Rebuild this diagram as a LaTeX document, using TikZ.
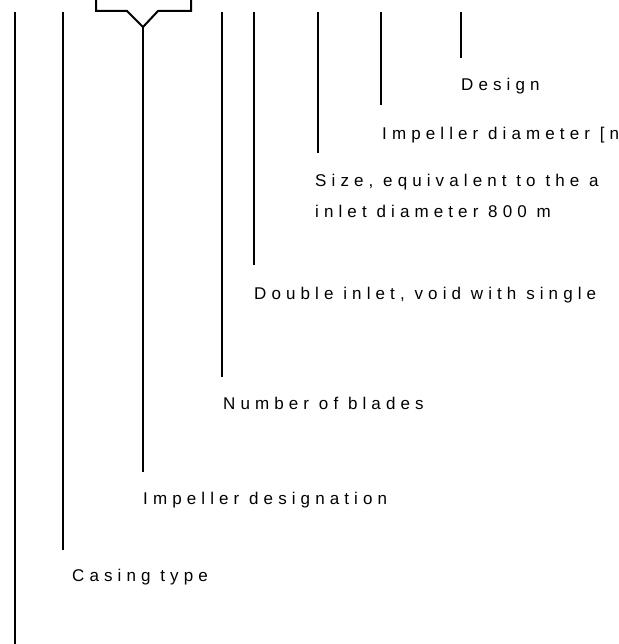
\documentclass[tikz,border=0pt]{standalone}
\usepackage{fontspec}
\newfontfamily\labfont[LetterSpace=30]{Liberation Sans}
\begin{document}
\begin{tikzpicture}[x=1pt,y=-1pt,
  lead/.style={line width=2pt,black},
  lab/.style={anchor=base west,inner sep=0pt,font=\labfont\fontsize{17}{20}\selectfont}]
\useasboundingbox (0,0) rectangle (618,644);
\clip (0,0) rectangle (618,644);
% tops and bottoms of leader lines
\coordinate (t1) at (15,12);  \coordinate (b1) at (15,644);
\coordinate (t2) at (63,12);  \coordinate (b2) at (63,550);
\coordinate (yv) at (143,27); \coordinate (b3) at (143,472);
\coordinate (t4) at (222,12); \coordinate (b4) at (222,377);
\coordinate (t5) at (254,12); \coordinate (b5) at (254,265);
\coordinate (t6) at (318,12); \coordinate (b6) at (318,153);
\coordinate (t7) at (381,12); \coordinate (b7) at (381,105);
\coordinate (t8) at (461,12); \coordinate (b8) at (461,58);
\coordinate (k1) at (96,0); \coordinate (k2) at (191,0);
\draw[lead] (t1) -- (b1);
\draw[lead] (t2) -- (b2);
\draw[lead,line join=miter] (k1) |- (127,11) -- (yv) -- (158,11) -| (k2);
\draw[lead] (yv) -- (b3);
\draw[lead] (t4) -- (b4);
\draw[lead] (t5) -- (b5);
\draw[lead] (t6) -- (b6);
\draw[lead] (t7) -- (b7);
\draw[lead] (t8) -- (b8);
% labels
\node[lab] (design) at (461,91) {Design};
\node[lab] (diam) at (382,140) {Impeller diameter [n};
\node[lab] (size1) at (315,187) {Size, equivalent to the a};
\node[lab] (size2) at (315,218) {inlet diameter 800 m};
\node[lab] (dbl) at (254,299) {Double inlet, void with single};
\node[lab] (blades) at (223,409) {Number of blades};
\node[lab] (imp) at (143,504) {Impeller designation};
\node[lab] (casing) at (72,581) {Casing type};
\end{tikzpicture}
\end{document}
